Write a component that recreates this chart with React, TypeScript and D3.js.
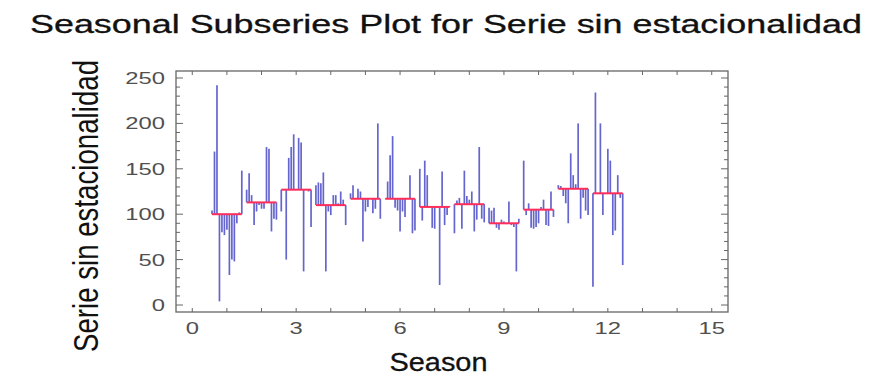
import React from "react";
import * as d3 from "d3";

// Observations for each season (one value per year), in plotting order
const season1 = [104, 169, 242, 4, 80, 77, 83, 33, 50, 48, 90, 102, 148];
const season2 = [127, 145, 121, 88, 103, 110, 106, 106, 174, 172, 81, 95, 94];
const season3 = [103, 127, 50, 162, 174, 188, 127, 184, 179, 37, 127, 125, 86];
const season4 = [132, 135, 134, 146, 37, 103, 99, 121, 121, 112, 125, 116, 88];
const season5 = [123, 132, 117, 128, 125, 70, 103, 108, 117, 101, 106, 200, 95];
const season6 = [117, 136, 165, 186, 107, 104, 81, 103, 97, 117, 143, 79, 82];
const season7 = [150, 93, 159, 143, 109, 85, 84, 107, 22, 147, 88, 99, 109];
const season8 = [79, 115, 118, 84, 148, 120, 116, 125, 81, 94, 174, 95, 91];
const season9 = [107, 104, 107, 85, 83, 94, 92, 89, 114, 88, 86, 37, 95];
const season10 = [159, 99, 112, 85, 84, 86, 90, 108, 116, 88, 87, 125, 97];
const season11 = [132, 131, 120, 112, 90, 167, 143, 133, 200, 95, 118, 104, 99];
const season12 = [20, 234, 123, 200, 99, 123, 172, 159, 77, 82, 143, 118, 44];

const subseries = [
  season1, season2, season3, season4, season5, season6,
  season7, season8, season9, season10, season11, season12,
];

// Mean level of each season (horizontal reference lines)
const seasonMeans = [100, 113, 127, 110, 117, 117, 108, 111, 90, 105, 128, 123];

const xTickLabels = [0, 3, 6, 9, 12, 15];
const yTickLabels = [0, 50, 100, 150, 200, 250];
const xMinorTicks = d3.range(0, 16, 1);
const yMinorTicks = d3.range(0, 251, 10);

const W = 876;
const H = 376;
const FONT = "'Liberation Sans', Arial, Helvetica, sans-serif";
const SPREAD = 0.43; // half-width of each season's cluster, in season units

const BAR = "#6565cf";
const MEAN = "#ff2d5a";
const FRAME = "#666666";
const TICKTEXT = "#505050";

export default function App() {
  const left = 176, right = 728, top = 71, bottom = 312;
  const x = d3.scaleLinear().domain([-0.47, 15.47]).range([left, right]);
  const y = d3.scaleLinear().domain([-7.7, 257.7]).range([bottom, top]);

  const pos = (s: number, i: number, n: number) =>
    x(s - SPREAD + (i * 2 * SPREAD) / (n - 1));

  return (
    <svg
      width={W}
      height={H}
      viewBox={`0 0 ${W} ${H}`}
      style={{ position: "absolute", left: 0, top: 0, background: "#fff" }}
      fontFamily={FONT}
    >
      <rect x={0} y={0} width={W} height={H} fill="#fff" />

      {/* Title */}
      <text
        x={30}
        y={33}
        fontSize={25}
        fill="#111"
        stroke="#111"
        strokeWidth={0.3}
        textLength={832}
        lengthAdjust="spacingAndGlyphs"
      >
        Seasonal Subseries Plot for Serie sin estacionalidad
      </text>

      {/* Deviation lines from each season mean */}
      <g stroke={BAR} strokeWidth={1.7}>
        {subseries.map((vals, k) =>
          vals.map((v, i) => (
            <line
              key={`${k}-${i}`}
              x1={pos(k + 1, i, vals.length)}
              x2={pos(k + 1, i, vals.length)}
              y1={y(seasonMeans[k])}
              y2={y(v)}
            />
          ))
        )}
      </g>

      {/* Season means */}
      <g stroke={MEAN} strokeWidth={2}>
        {seasonMeans.map((m, k) => (
          <line
            key={k}
            x1={x(k + 1 - SPREAD)}
            x2={x(k + 1 + SPREAD)}
            y1={y(m)}
            y2={y(m)}
          />
        ))}
      </g>

      {/* Frame */}
      <rect
        x={left}
        y={top}
        width={right - left}
        height={bottom - top}
        fill="none"
        stroke={FRAME}
        strokeWidth={1.3}
      />

      {/* X ticks (bottom and top, inward) */}
      <g stroke={FRAME} strokeWidth={1}>
        {xMinorTicks.map((t) => (
          <g key={t}>
            <line x1={x(t)} x2={x(t)} y1={bottom} y2={bottom - 4} />
            <line x1={x(t)} x2={x(t)} y1={top} y2={top + 4} />
          </g>
        ))}
      </g>

      {/* Y ticks (left and right, inward) */}
      <g stroke={FRAME} strokeWidth={1}>
        {yMinorTicks.map((t) => {
          const len = t % 50 === 0 ? 7 : 4;
          return (
            <g key={t}>
              <line x1={left} x2={left + len} y1={y(t)} y2={y(t)} />
              <line x1={right} x2={right - len} y1={y(t)} y2={y(t)} />
            </g>
          );
        })}
      </g>

      {/* Y tick labels */}
      {yTickLabels.map((t) => (
        <g key={t} transform={`translate(165, ${y(t) + 6}) scale(1.4, 1)`}>
          <text textAnchor="end" fontSize={17} fill={TICKTEXT}>
            {t}
          </text>
        </g>
      ))}

      {/* X tick labels */}
      {xTickLabels.map((t) => (
        <g key={t} transform={`translate(${x(t)}, 334) scale(1.4, 1)`}>
          <text textAnchor="middle" fontSize={17} fill={TICKTEXT}>
            {t}
          </text>
        </g>
      ))}

      {/* Axis titles */}
      <text
        x={438.5}
        y={371}
        fontSize={26}
        fill="#111"
        stroke="#111"
        strokeWidth={0.3}
        textAnchor="middle"
        textLength={98}
        lengthAdjust="spacingAndGlyphs"
      >
        Season
      </text>
      <g transform="translate(98, 206) scale(1.27, 1) rotate(-90)">
        <text
          x={0}
          y={0}
          fontSize={27}
          fill="#111"
          textAnchor="middle"
          textLength={292}
          lengthAdjust="spacingAndGlyphs"
        >
          Serie sin estacionalidad
        </text>
      </g>
    </svg>
  );
}
